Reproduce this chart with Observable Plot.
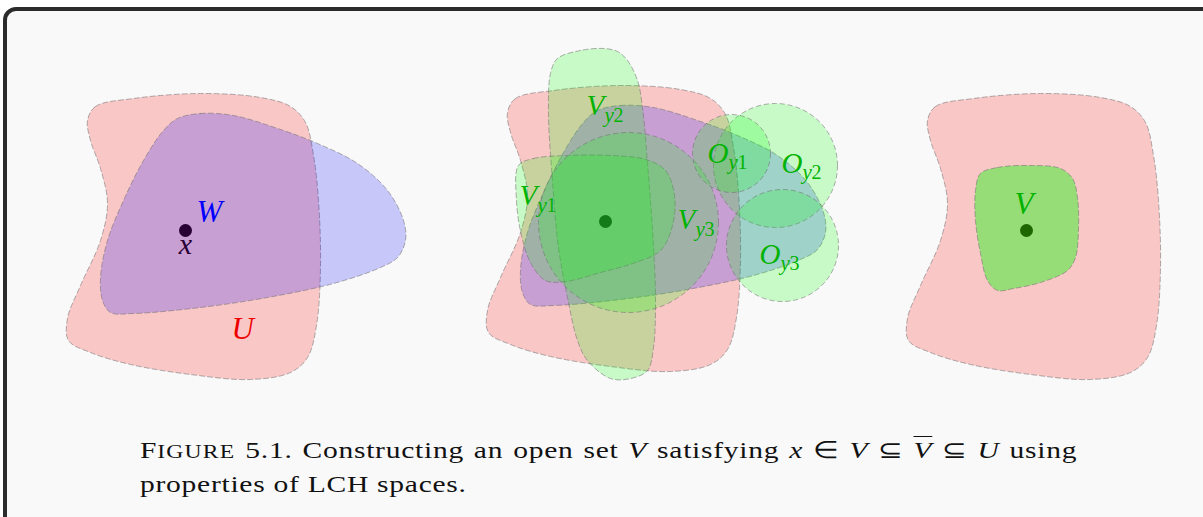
<!DOCTYPE html>
<html>
<head>
<meta charset="utf-8">
<script src="https://cdn.jsdelivr.net/npm/d3@7"></script>
<script src="https://cdn.jsdelivr.net/npm/@observablehq/plot@0.6"></script>
<style>
  html, body { margin: 0; padding: 0; background: #ffffff; width: 1203px; height: 517px; overflow: hidden; }
  #frame { position: absolute; left: 3px; top: 7px; width: 1260px; height: 580px; border: 4px solid #2b2b2b; border-radius: 13px; background: #f9f9f9; box-sizing: border-box; }
  #chart { position: absolute; left: 0; top: 0; }
  #chart svg { background: transparent; }
  #cap { position: absolute; left: 140px; top: 434px; width: 762px; font-family: "Liberation Serif", "Times New Roman", serif; font-size: 24px; line-height: 32px; color: #111; letter-spacing: 0.6px; transform: scaleX(1.23); transform-origin: 0 0; }
  #cap .l1 { white-space: nowrap; display: flex; justify-content: space-between; }
  #cap .sc { font-size: 0.8em; letter-spacing: 1px; }
  #cap i { font-style: italic; }
  #cap .ov { text-decoration: overline; text-decoration-thickness: 1px; }
</style>
</head>
<body>
<div id="frame"></div>
<div id="chart"></div>
<div id="cap">
  <div class="l1"><span>F<span class="sc">IGURE</span></span><span>5.1.</span><span>Constructing</span><span>an</span><span>open</span><span>set</span><span><i>V</i></span><span>satisfying</span><span><i>x</i></span><span>∈</span><span><i>V</i></span><span>⊆</span><span><i class="ov">V</i></span><span>⊆</span><span><i>U</i></span><span>using</span></div>
  <div>properties of LCH spaces.</div>
</div>
<script>
// ---- shape outlines (control points of smooth closed curves, in picture units) ----
const uOutline = [[87,120],[95,106],[133,98],[200,93],[260,97],[290,106],[305,122],[313,155],[318,200],[320,267],[316,325],[307,357],[290,372],[250,379],[190,374],[130,364],[90,352],[68,340],[67,318],[80,285],[100,240],[107,203],[100,168],[90,140]];
const wOutline = [[177,118],[200,113],[233,115],[283,130],[317,143],[357,163],[387,190],[403,220],[405,240],[397,257],[380,267],[333,283],[267,297],[200,307],[133,313],[110,312],[102,300],[100,277],[107,240],[123,200],[143,160],[163,130]];
const vy1Outline = [[518,165],[533,158],[567,155],[610,155],[645,159],[665,170],[674,195],[672,225],[660,250],[632,263],[600,272],[565,281],[545,280],[530,262],[521,235],[516,200]];
const vy2Outline = [[603,48],[580,50],[557,58],[550,73],[548,113],[552,180],[558,247],[567,297],[577,340],[587,360],[610,378],[630,378],[647,370],[653,347],[655,297],[652,230],[647,163],[642,107],[637,80],[627,60],[617,51]];
const vOutline = [[980,173],[997,167],[1030,165],[1060,168],[1072,178],[1077,197],[1078,230],[1075,257],[1067,270],[1040,282],[1013,288],[997,290],[987,280],[980,253],[975,220],[975,190]];

// panel shifts of the shared U / W outlines
const uPanels = [{dx: 0, dy: 0}, {dx: 420, dy: -8}, {dx: 840, dy: 0}];
const wPanels = [{dx: 0, dy: 0}, {dx: 420, dy: -8}];

// open balls in the middle panel
const balls = [
  {name: "Vy3", x: 628, y: 222, r: 90},
  {name: "Oy1", x: 731, y: 153, r: 39},
  {name: "Oy2", x: 775, y: 165, r: 62},
  {name: "Oy3", x: 782, y: 245, r: 56}
];

// the point x in each panel
const points = [{x: 185, y: 230}, {x: 605, y: 221}, {x: 1026, y: 230}];

// labels
const xLabel = [{t: "x", x: 185, y: 253}];
const bigLabels = [
  {t: "W", x: 196, y: 221, c: "#0000ff"},
  {t: "U", x: 231, y: 338, c: "#ee0000"},
  {t: "V", x: 1014, y: 213, c: "#00b300"}
];
const subLabels = [
  {t: "V", s: "y", n: "2", x: 586, y: 114},
  {t: "V", s: "y", n: "1", x: 519, y: 204},
  {t: "V", s: "y", n: "3", x: 677, y: 228},
  {t: "O", s: "y", n: "1", x: 707, y: 162},
  {t: "O", s: "y", n: "2", x: 781, y: 172},
  {t: "O", s: "y", n: "3", x: 759, y: 263}
];
const subShift = {V: 18, O: 21};
const subDrop = {V: 7, O: 6};

const outlineStroke = {stroke: "#6e6e6e", strokeOpacity: 0.55, strokeWidth: 1, strokeDasharray: "5,3"};
const green = "#00b300";
const mathFont = "'Liberation Serif', 'Times New Roman', serif";

function blob(pts, shift, fill, opacity) {
  return Plot.line(pts, {
    x: d => d[0] + shift.dx, y: d => d[1] + shift.dy,
    curve: "catmull-rom-closed", fill, fillOpacity: opacity, ...outlineStroke
  });
}

const marks = [
  Plot.dot(points, {x: "x", y: "y", r: 6.5, fill: "#000", stroke: "none"}),
  Plot.text(xLabel, {x: "x", y: "y", text: "t", fill: "#000", fontSize: 30, fontStyle: "italic", fontFamily: mathFont, lineAnchor: "bottom", textAnchor: "middle"}),
  ...uPanels.map(p => blob(uOutline, p, "#ff0000", 0.2)),
  ...wPanels.map(p => blob(wOutline, p, "#0000ff", 0.2)),
  blob(vy2Outline, {dx: 0, dy: 0}, "#00ff00", 0.2),
  blob(vy1Outline, {dx: 0, dy: 0}, "#00ff00", 0.2),
  Plot.dot(balls, {x: "x", y: "y", r: "r", fill: "#00ff00", fillOpacity: 0.2, ...outlineStroke}),
  blob(vOutline, {dx: 0, dy: 0}, "#00ff00", 0.4),
  Plot.text(bigLabels, {x: "x", y: "y", text: "t", fill: "c", fontSize: 31, fontStyle: "italic", fontFamily: mathFont, lineAnchor: "bottom", textAnchor: "start"}),
  Plot.text(subLabels, {x: "x", y: "y", text: "t", fill: green, fontSize: 29, fontStyle: "italic", fontFamily: mathFont, lineAnchor: "bottom", textAnchor: "start"}),
  Plot.text(subLabels, {x: d => d.x + subShift[d.t], y: d => d.y + subDrop[d.t], text: "s", fill: green, fontSize: 21, fontStyle: "italic", fontFamily: mathFont, lineAnchor: "bottom", textAnchor: "start"}),
  Plot.text(subLabels, {x: d => d.x + subShift[d.t] + 9, y: d => d.y + subDrop[d.t], text: "n", fill: green, fontSize: 20, fontFamily: mathFont, lineAnchor: "bottom", textAnchor: "start"})
];

const plot = Plot.plot({
  width: 1203,
  height: 420,
  margin: 0,
  x: {domain: [0, 1203], range: [0, 1203], axis: null},
  y: {domain: [0, 420], range: [0, 420], axis: null},
  r: {type: "linear", domain: [0, 100], range: [0, 100]},
  style: {background: "transparent", overflow: "visible"},
  marks
});
document.getElementById("chart").appendChild(plot);
</script>
</body>
</html>
